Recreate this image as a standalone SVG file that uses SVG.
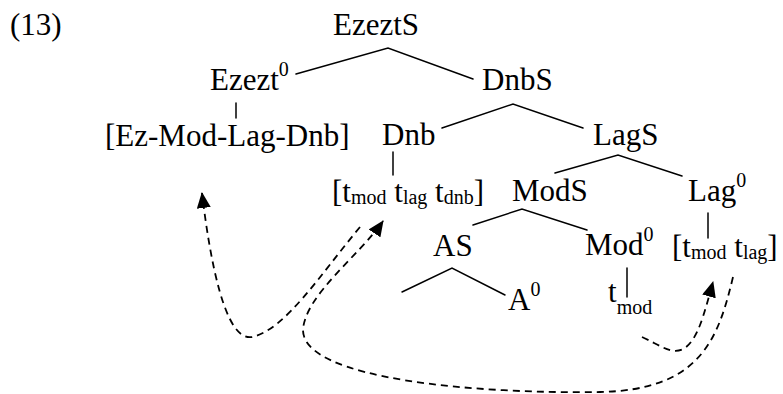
<svg xmlns="http://www.w3.org/2000/svg" width="783" height="394" viewBox="0 0 783 394">
<style>
  text { font-family: "Liberation Serif", "Times New Roman", serif; font-size: 31px; fill: #000; }
  .s { font-size: 20px; }
  .edge { stroke: #000; stroke-width: 1.5; fill: none; stroke-linecap: round; }
  .mv { stroke: #000; stroke-width: 1.8; fill: none; stroke-dasharray: 7 5; }
</style>
<defs>
  <marker id="ah" markerUnits="userSpaceOnUse" markerWidth="16" markerHeight="14" viewBox="0 0 16 14" refX="15" refY="7" orient="auto">
    <path d="M0,0 L16,7 L0,14 z" fill="#000"/>
  </marker>
</defs>
<rect width="783" height="394" fill="#fff"/>
<text id="label" x="10" y="35">(13)</text>
<g id="connectors">
  <path class="edge" d="M296 74 L388 48 L473 79"/>
  <path class="edge" d="M236 103 L236 118"/>
  <path class="edge" d="M442 128 L513 104 L583 128"/>
  <path class="edge" d="M393 152 L393 175"/>
  <path class="edge" d="M555 173 L618 155 L682 176"/>
  <path class="edge" d="M473 225 L522 209 L587 230"/>
  <path class="edge" d="M708 213 L708 238"/>
  <path class="edge" d="M402 292 L452 268 L505 295"/>
  <path class="edge" d="M627 268 L627 297"/>
  <path class="mv" marker-end="url(#ah)" d="M360 227 C320 275 285 330 252 337 C225 342 210 260 202 193"/>
  <path class="mv" marker-end="url(#ah)" d="M733 277 C718 340 700 390 600 392 C480 394 303 380 303 330 C305 295 360 255 383 221"/>
  <path class="mv" marker-end="url(#ah)" d="M642 337 C660 345 672 356 685 348 C698 338 703 318 713 282"/>
</g>
<g id="EzeztS"><text x="333" y="35">EzeztS</text></g>
<g id="Ezezt0"><text x="210" y="90">Ezezt<tspan class="s" dy="-14">0</tspan></text></g>
<g id="DnbS"><text x="482" y="90">DnbS</text></g>
<g id="EzModLagDnb"><text x="105" y="146">[Ez-Mod-Lag-Dnb]</text></g>
<g id="Dnb"><text x="382" y="145">Dnb</text></g>
<g id="LagS"><text x="593" y="145">LagS</text></g>
<g id="Dnb-traces"><text x="332" y="202">[t<tspan class="s" dy="2">mod</tspan><tspan dy="-2"> t</tspan><tspan class="s" dy="2">lag</tspan><tspan dy="-2"> t</tspan><tspan class="s" dy="2">dnb</tspan><tspan dy="-2">]</tspan></text></g>
<g id="ModS"><text x="512" y="201">ModS</text></g>
<g id="Lag0"><text x="688" y="201">Lag<tspan class="s" dy="-14">0</tspan></text></g>
<g id="AS"><text x="433" y="256">AS</text></g>
<g id="Mod0"><text x="585" y="255">Mod<tspan class="s" dy="-14">0</tspan></text></g>
<g id="Lag-traces"><text x="672" y="257">[t<tspan class="s" dy="2">mod</tspan><tspan dy="-2"> t</tspan><tspan class="s" dy="2">lag</tspan><tspan dy="-2">]</tspan></text></g>
<g id="A0"><text x="508" y="310">A<tspan class="s" dy="-14">0</tspan></text></g>
<g id="tmod"><text x="608" y="302">t<tspan class="s" dy="12">mod</tspan></text></g>
</svg>
